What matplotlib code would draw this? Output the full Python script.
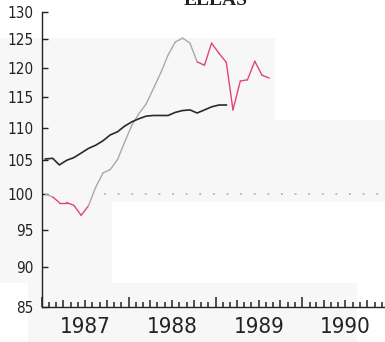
import matplotlib
matplotlib.use("Agg")
import matplotlib.pyplot as plt
import matplotlib.dates as mdates
from matplotlib.ticker import NullLocator, FixedLocator, FuncFormatter, NullFormatter
from matplotlib.patches import Rectangle
import pandas as pd

# Monthly observations, Jan 1987 onwards (mid-month)
months = pd.date_range("1987-01-01", periods=32, freq="MS") + pd.Timedelta(days=14)

trend = [105.2, 105.3, 104.3, 105.0, 105.4, 106.1, 106.8, 107.3, 108.0, 108.9,
         109.4, 110.3, 111.0, 111.5, 111.9, 112.0, 112.0, 112.0, 112.5, 112.8,
         112.9, 112.4, 112.9, 113.4, 113.7, 113.7]

index = [100.0, 99.6, 98.8, 98.8, 98.4, 97.0, 98.3, 101.0, 103.1, 103.6,
         105.1, 107.8, 110.5, 112.4, 113.9, 116.5, 119.1, 122.2, 124.5, 125.2,
         124.3, 121.0, 120.4, 124.3, 122.5, 120.9, 112.9, 117.7, 117.9, 121.1,
         118.7, 118.2]

# 1 = highlighted segment (starting at that point), 0 = plain
highlight = [0, 1, 1, 1, 1, 1, 0, 0, 0, 0,
             0, 0, 0, 0, 0, 0, 0, 0, 0, 0,
             0, 1, 1, 1, 1, 1, 1, 1, 1, 1,
             1]

yticks = [85, 90, 95, 100, 105, 110, 115, 120, 125, 130]
title = "ELLAS"
reference_level = 100
reference_start = "1987-09-17"

GREY = "#a9a9a9"
PINK = "#e0457b"
BLACK = "#2a2a2a"
SHADE = "#f7f7f7"
INK = "#222222"

plt.rcParams["font.family"] = ["DejaVu Sans"]
plt.rcParams["font.stretch"] = "condensed"

W, H = 385, 342
fig = plt.figure(figsize=(W / 100, H / 100), dpi=100)
fig.patch.set_facecolor("white")

# faint background panels (pixel boxes: x0, x1, top, bottom)
bg = fig.add_axes([0, 0, 1, 1], zorder=-5)
bg.set_xlim(0, W)
bg.set_ylim(H, 0)
bg.axis("off")
for x0, x1, t, b in [(0, 275, 38, 120), (0, 385, 120, 202),
                     (0, 112, 202, 283), (28, 357, 283, 342)]:
    bg.add_patch(Rectangle((x0, t), x1 - x0, b - t, facecolor=SHADE,
                           edgecolor="none"))

ax = fig.add_axes([42 / W, 1 - 307 / H, (389 - 42) / W, (307 - 12) / H])
ax.patch.set_visible(False)

ax.set_yscale("log")
ax.set_ylim(85, 130)
ax.set_xlim(pd.Timestamp("1987-01-01"), pd.Timestamp("1991-01-01"))

# reference level
ax.hlines(reference_level, pd.Timestamp(reference_start), pd.Timestamp("1991-01-01"),
          colors="#bdbdbd", linestyles=(0, (1, 6)), linewidth=1.4, zorder=1)

# smoothed series
ax.plot(months[:len(trend)], trend, color=BLACK, linewidth=1.2, zorder=3)

# index series, coloured by segment
for i in range(len(index) - 1):
    c = PINK if highlight[i] else GREY
    ax.plot(months[i:i + 2], index[i:i + 2], color=c, linewidth=1.0,
            solid_capstyle="round", zorder=2)

for s in ("top", "right"):
    ax.spines[s].set_visible(False)
for s in ("left", "bottom"):
    ax.spines[s].set_color(INK)
    ax.spines[s].set_linewidth(1.0)

ax.yaxis.set_major_locator(FixedLocator(yticks))
ax.yaxis.set_major_formatter(FuncFormatter(lambda v, p: f"{v:.0f}"))
ax.yaxis.set_minor_locator(NullLocator())
ax.tick_params(axis="y", direction="in", length=4, width=1, pad=6,
               labelsize=11, colors=INK)

# monthly marks, longer at quarters and longest at year starts
ax.xaxis.set_major_locator(mdates.MonthLocator(bymonthday=1))
ax.xaxis.set_major_formatter(NullFormatter())
ax.tick_params(axis="x", which="major", direction="in", length=3.5, width=1.1,
               colors=INK)

# year labels centred on each year
ax.xaxis.set_minor_locator(mdates.MonthLocator(bymonth=7, bymonthday=2))
ax.xaxis.set_minor_formatter(mdates.DateFormatter("%Y"))
ax.tick_params(axis="x", which="minor", length=0, pad=7, labelsize=16,
               colors=INK)

locs = ax.xaxis.get_majorticklocs()
for tick, loc in zip(ax.xaxis.get_major_ticks(len(locs)), locs):
    m = mdates.num2date(loc).month
    size = 7.5 if m == 1 else (5 if m in (4, 7, 10) else 3.5)
    tick.tick1line.set_markersize(size)

fig.text(216 / W, 1 - 5 / H, title, ha="center", va="baseline",
         fontsize=14, fontweight="bold", family=["Liberation Serif", "DejaVu Serif"],
         color=INK)

fig.savefig("out.png", dpi=100)
